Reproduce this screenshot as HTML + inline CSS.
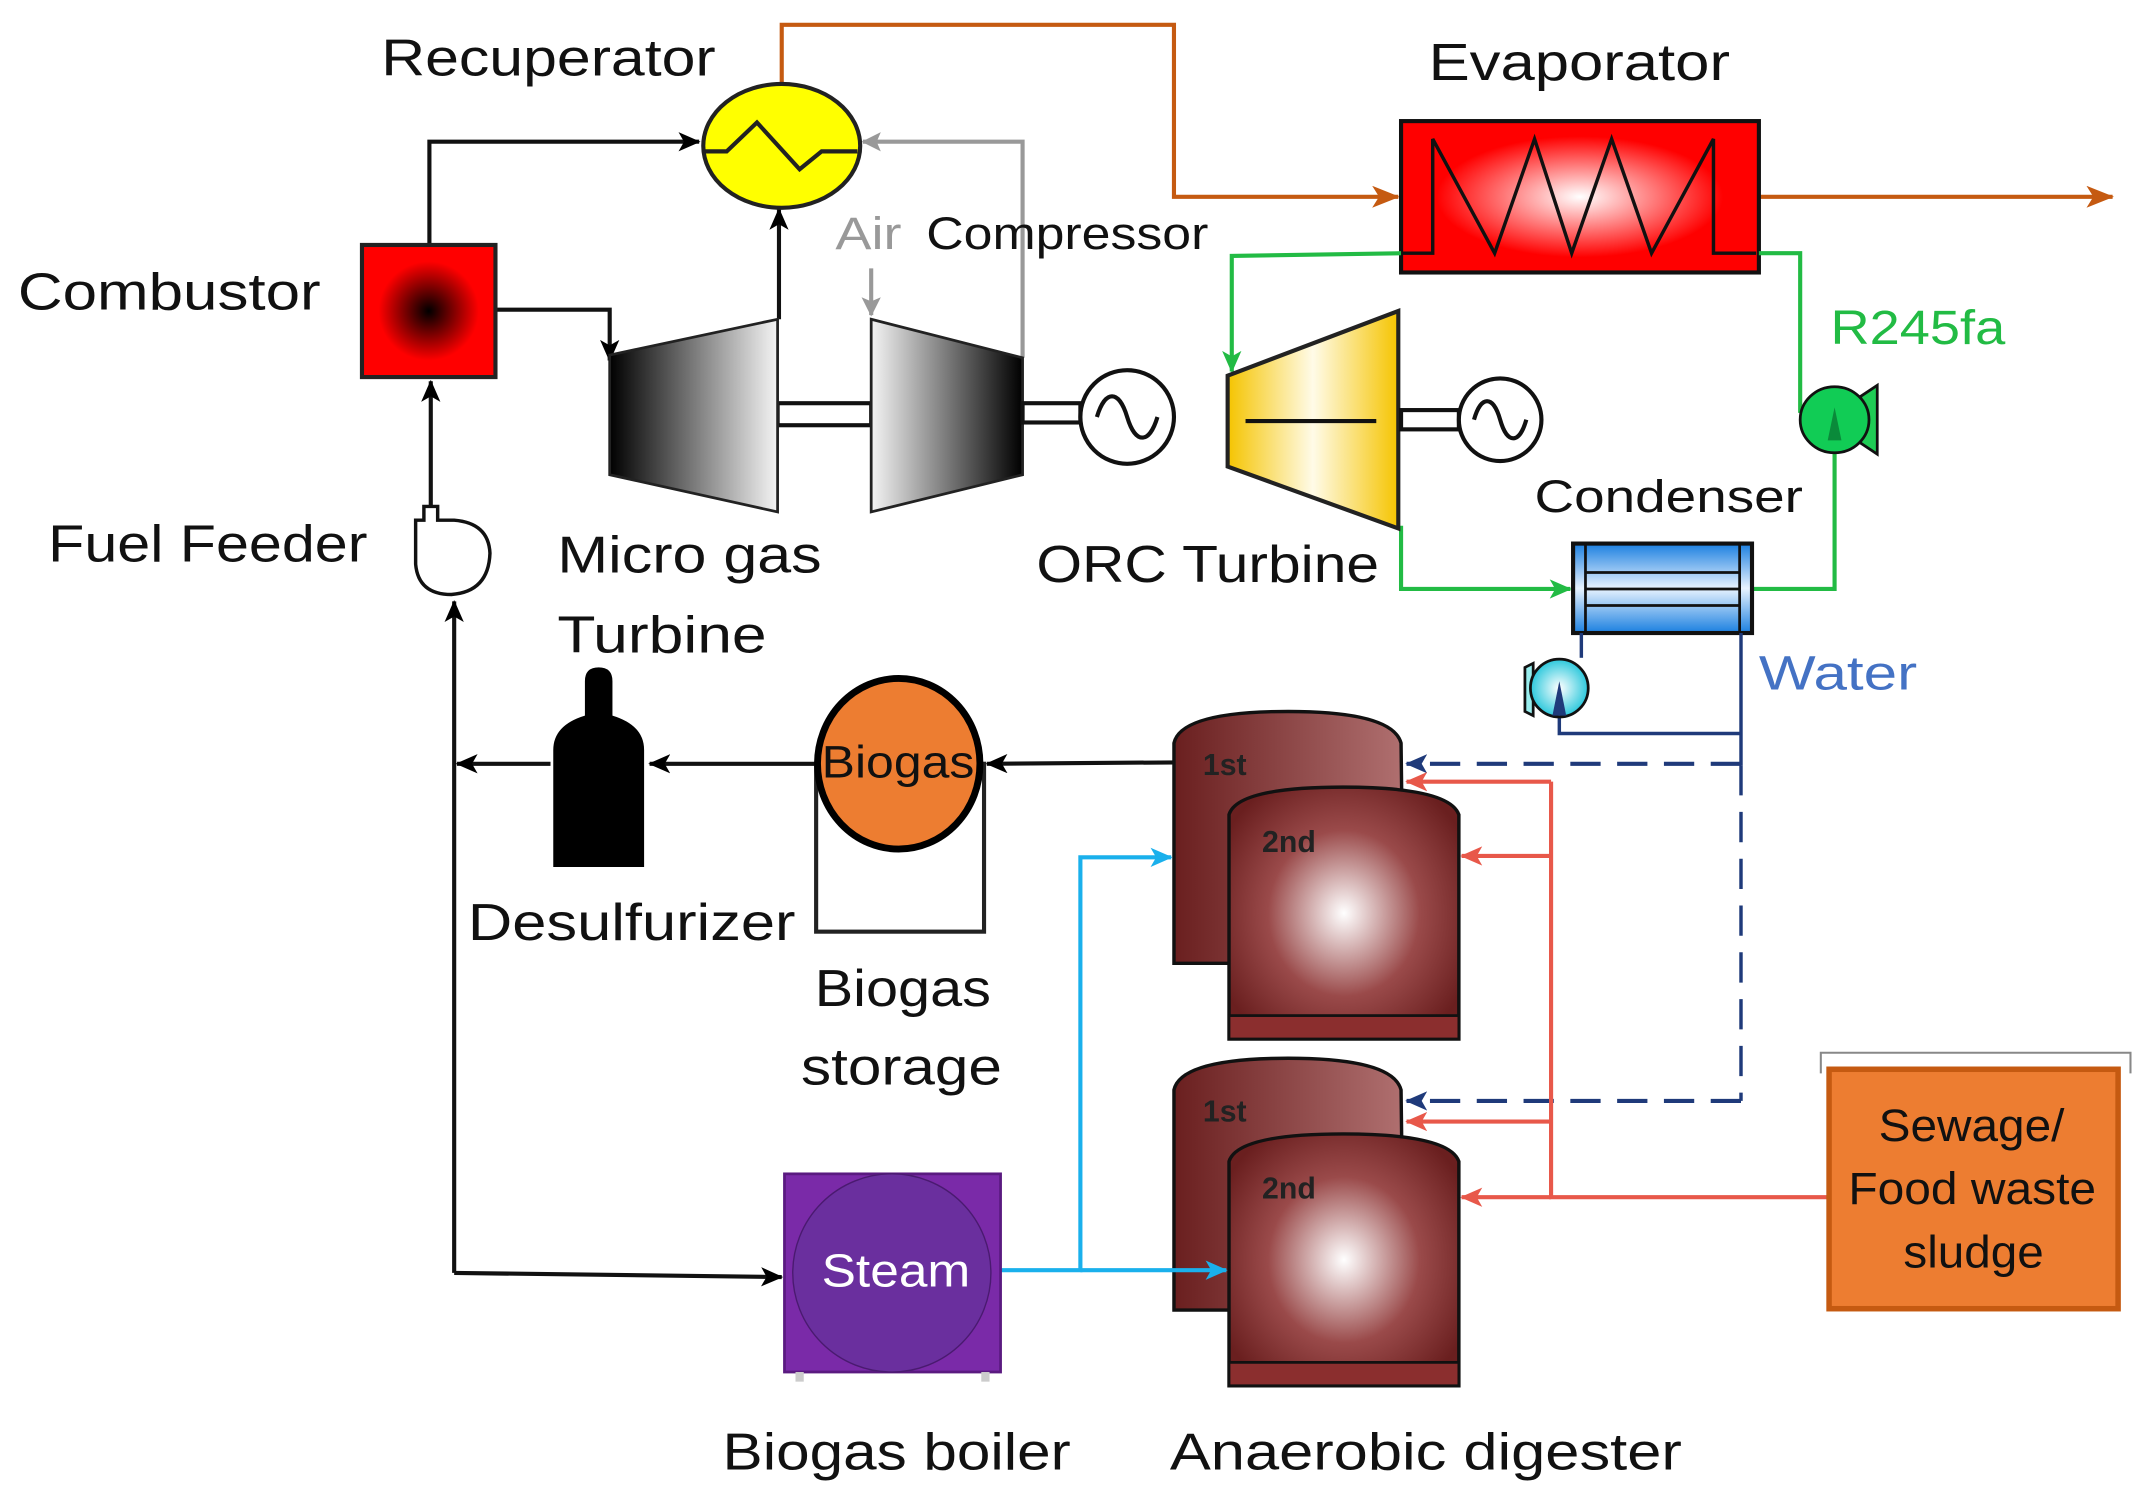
<!DOCTYPE html>
<html><head><meta charset="utf-8"><style>html,body{margin:0;padding:0;background:#fff}svg{display:block}</style></head>
<body>
<svg width="2147" height="1500" viewBox="0 0 1560 1090" preserveAspectRatio="none" xmlns="http://www.w3.org/2000/svg" font-family="Liberation Sans, sans-serif">
<defs>
<radialGradient id="comb"><stop offset="0" stop-color="#000"/><stop offset="0.75" stop-color="#f00"/><stop offset="1" stop-color="#f00"/></radialGradient>
<radialGradient id="evap"><stop offset="0" stop-color="#fff"/><stop offset="0.8" stop-color="#f00"/></radialGradient>
<linearGradient id="tleft" x1="0" x2="1"><stop offset="0" stop-color="#000"/><stop offset="1" stop-color="#f4f4f4"/></linearGradient>
<linearGradient id="tright" x1="0" x2="1"><stop offset="0" stop-color="#f4f4f4"/><stop offset="1" stop-color="#000"/></linearGradient>
<linearGradient id="orc" x1="0" x2="1"><stop offset="0" stop-color="#f5c400"/><stop offset="0.5" stop-color="#fffbe8"/><stop offset="1" stop-color="#f5c400"/></linearGradient>
<linearGradient id="cond" x1="0" y1="0" x2="0" y2="1"><stop offset="0" stop-color="#1a7fe0"/><stop offset="0.5" stop-color="#e8f3ff"/><stop offset="1" stop-color="#1a7fe0"/></linearGradient>
<radialGradient id="dig" cx="0.5" cy="0.5" r="0.6"><stop offset="0" stop-color="#fff"/><stop offset="0.55" stop-color="#9a4a4a"/><stop offset="1" stop-color="#6a1f1f"/></radialGradient>
<linearGradient id="dig1" x1="0" x2="1"><stop offset="0" stop-color="#6a1f1f"/><stop offset="1" stop-color="#b07070"/></linearGradient>
<radialGradient id="wp"><stop offset="0" stop-color="#fff"/><stop offset="1" stop-color="#2cc8dc"/></radialGradient>
<marker id="ak" markerWidth="16" markerHeight="14" refX="15" refY="7" orient="auto" markerUnits="userSpaceOnUse"><path d="M0,0 L16,7 L0,14 L4,7z" fill="#000"/></marker>
<marker id="ao" markerWidth="20" markerHeight="16" refX="19" refY="8" orient="auto" markerUnits="userSpaceOnUse"><path d="M0,0 L20,8 L0,16 L5,8z" fill="#c55a11"/></marker>
<marker id="ag" markerWidth="14" markerHeight="14" refX="13" refY="7" orient="auto" markerUnits="userSpaceOnUse"><path d="M0,0 L14,7 L0,14 L3,7z" fill="#999"/></marker>
<marker id="agr" markerWidth="16" markerHeight="14" refX="15" refY="7" orient="auto" markerUnits="userSpaceOnUse"><path d="M0,0 L16,7 L0,14 L4,7z" fill="#22bb44"/></marker>
<marker id="an" markerWidth="16" markerHeight="14" refX="15" refY="7" orient="auto" markerUnits="userSpaceOnUse"><path d="M0,0 L16,7 L0,14 L4,7z" fill="#1f3a7a"/></marker>
<marker id="ar" markerWidth="16" markerHeight="14" refX="15" refY="7" orient="auto" markerUnits="userSpaceOnUse"><path d="M0,0 L16,7 L0,14 L4,7z" fill="#e8584a"/></marker>
<marker id="ac" markerWidth="16" markerHeight="14" refX="15" refY="7" orient="auto" markerUnits="userSpaceOnUse"><path d="M0,0 L16,7 L0,14 L4,7z" fill="#1ab0ec"/></marker>
</defs>

<polyline points="568,62 568,18 853,18 853,143 1016,143" fill="none" stroke="#c55a11" stroke-width="3" marker-end="url(#ao)"/>
<line x1="1278" y1="143" x2="1535" y2="143" stroke="#c55a11" stroke-width="3" marker-end="url(#ao)"/>

<polyline points="312,178 312,103 508,103" fill="none" stroke="#111" stroke-width="3" marker-end="url(#ak)"/>
<polyline points="360,225 443,225 443,262" fill="none" stroke="#111" stroke-width="3" marker-end="url(#ak)"/>
<line x1="566" y1="232" x2="566" y2="152" stroke="#111" stroke-width="3" marker-end="url(#ak)"/>
<line x1="313" y1="368" x2="313" y2="277" stroke="#111" stroke-width="3" marker-end="url(#ak)"/>
<line x1="330" y1="925" x2="330" y2="437" stroke="#111" stroke-width="3" marker-end="url(#ak)"/>
<polyline points="330,925 568,928" fill="none" stroke="#111" stroke-width="3" marker-end="url(#ak)"/>
<line x1="400" y1="555" x2="332" y2="555" stroke="#111" stroke-width="3" marker-end="url(#ak)"/>
<line x1="593" y1="555" x2="472" y2="555" stroke="#111" stroke-width="3" marker-end="url(#ak)"/>
<line x1="855" y1="554" x2="717" y2="555" stroke="#111" stroke-width="3" marker-end="url(#ak)"/>

<polyline points="743,260 743,103 627,103" fill="none" stroke="#999" stroke-width="3" marker-end="url(#ag)"/>
<line x1="633" y1="195" x2="633" y2="229" stroke="#999" stroke-width="3" marker-end="url(#ag)"/>

<ellipse cx="568" cy="106" rx="57" ry="45" fill="#ffff00" stroke="#222" stroke-width="3"/>
<polyline points="511,110 528,110 550,89 581,123 597,110 623,110" fill="none" stroke="#222" stroke-width="3"/>

<rect x="263" y="178" width="97" height="96" fill="url(#comb)" stroke="#222" stroke-width="3"/>

<rect x="565" y="293" width="68" height="16" fill="#fff" stroke="#111" stroke-width="3"/>
<polygon points="443,258 565,232 565,372 443,345" fill="url(#tleft)" stroke="#222" stroke-width="2"/>
<polygon points="633,232 743,260 743,345 633,372" fill="url(#tright)" stroke="#222" stroke-width="2"/>
<rect x="743" y="293" width="42" height="14" fill="#fff" stroke="#111" stroke-width="3"/>
<circle cx="819" cy="303" r="34" fill="#fff" stroke="#111" stroke-width="3"/>
<path d="M797,303 C803,283 813,283 819,303 C825,323 835,323 841,303" fill="none" stroke="#111" stroke-width="3"/>

<path d="M308,368 L308,378 L302,378 L302,410 Q304,432 328,432 Q355,430 356,402 Q355,380 330,378 L318,378 L318,368 Z" fill="#fff" stroke="#111" stroke-width="2.5"/>

<rect x="1018" y="88" width="260" height="110" fill="url(#evap)" stroke="#111" stroke-width="3"/>
<polyline points="1018,184 1041,184 1041,101 1086,184 1115,101 1142,184 1171,101 1200,184 1245,101 1245,184 1276,184" fill="none" stroke="#111" stroke-width="2.5"/>

<polyline points="1018,184 895,186 895,270" fill="none" stroke="#22bb44" stroke-width="3" marker-end="url(#agr)"/>
<polyline points="1018,382 1018,428 1141,428" fill="none" stroke="#22bb44" stroke-width="3" marker-end="url(#agr)"/>
<polyline points="1273,428 1333,428 1333,320" fill="none" stroke="#22bb44" stroke-width="3"/>
<polyline points="1308,300 1308,184 1278,184" fill="none" stroke="#22bb44" stroke-width="3"/>

<polygon points="892,273 1016,226 1016,384 892,339" fill="url(#orc)" stroke="#222" stroke-width="3"/>
<line x1="905" y1="306" x2="1000" y2="306" stroke="#111" stroke-width="3"/>
<rect x="1018" y="298" width="42" height="14" fill="#fff" stroke="#111" stroke-width="3"/>
<circle cx="1090" cy="305" r="30" fill="#fff" stroke="#111" stroke-width="3"/>
<path d="M1071,305 C1076,287 1085,287 1090,305 C1095,323 1104,323 1109,305" fill="none" stroke="#111" stroke-width="3"/>

<path d="M1352,288 L1364,280 L1364,330 L1352,322Z" fill="#1fcc55" stroke="#111" stroke-width="2"/>
<ellipse cx="1333" cy="305" rx="25" ry="24" fill="#11cc55" stroke="#111" stroke-width="2"/>
<path d="M1328,320 L1333,296 L1338,320Z" fill="#0a8a3a"/>

<rect x="1143" y="395" width="130" height="65" fill="url(#cond)" stroke="#111" stroke-width="3"/>
<line x1="1152" y1="395" x2="1152" y2="460" stroke="#111" stroke-width="2"/>
<line x1="1264" y1="395" x2="1264" y2="460" stroke="#111" stroke-width="2"/>
<line x1="1152" y1="416" x2="1264" y2="416" stroke="#111" stroke-width="2"/>
<line x1="1152" y1="428" x2="1264" y2="428" stroke="#111" stroke-width="2"/>
<line x1="1152" y1="440" x2="1264" y2="440" stroke="#111" stroke-width="2"/>

<polyline points="1149,460 1149,478" fill="none" stroke="#1f3a7a" stroke-width="2.5"/>
<polyline points="1133,520 1133,533 1265,533" fill="none" stroke="#1f3a7a" stroke-width="2.5"/>
<line x1="1265" y1="460" x2="1265" y2="556" stroke="#1f3a7a" stroke-width="2.5"/>
<line x1="1265" y1="556" x2="1265" y2="800" stroke="#1f3a7a" stroke-width="2.5" stroke-dasharray="22,12"/>
<line x1="1265" y1="555" x2="1022" y2="555" stroke="#1f3a7a" stroke-width="3" stroke-dasharray="22,12" marker-end="url(#an)"/>
<line x1="1265" y1="800" x2="1022" y2="800" stroke="#1f3a7a" stroke-width="3" stroke-dasharray="22,12" marker-end="url(#an)"/>
<path d="M1108,485 L1114,482 L1114,520 L1108,517Z" fill="#9ee" stroke="#111" stroke-width="2"/>
<ellipse cx="1133" cy="500" rx="21" ry="21" fill="url(#wp)" stroke="#111" stroke-width="2"/>
<path d="M1128,520 L1133,495 L1138,520Z" fill="#1f3a7a"/>

<path d="M402,630 L402,545 Q402,527 425,520 L425,495 Q425,485 435,485 Q445,485 445,495 L445,520 Q468,527 468,545 L468,630Z" fill="#000"/>

<rect x="593" y="555" width="122" height="122" fill="#fff" stroke="#222" stroke-width="3"/>
<ellipse cx="653" cy="555" rx="59" ry="62" fill="#ed7d31" stroke="#000" stroke-width="5"/>

<polyline points="1328,870 1127,870 1127,568" fill="none" stroke="#e8584a" stroke-width="3"/>
<line x1="1127" y1="568" x2="1022" y2="568" stroke="#e8584a" stroke-width="3" marker-end="url(#ar)"/>
<line x1="1127" y1="622" x2="1062" y2="622" stroke="#e8584a" stroke-width="3" marker-end="url(#ar)"/>
<line x1="1127" y1="815" x2="1022" y2="815" stroke="#e8584a" stroke-width="3" marker-end="url(#ar)"/>
<line x1="1127" y1="870" x2="1062" y2="870" stroke="#e8584a" stroke-width="3" marker-end="url(#ar)"/>

<g id="dg">
<path d="M853,700 L853,540 Q858,517 936,517 Q1012,517 1018,540 L1020,700Z" fill="url(#dig1)" stroke="#111" stroke-width="2.5"/>
<path d="M893,755 L893,592 Q899,572 976,572 Q1053,572 1060,592 L1060,755Z" fill="url(#dig)" stroke="#111" stroke-width="2.5"/>
<rect x="893" y="738" width="167" height="17" fill="#8b2e2e" stroke="#111" stroke-width="2"/>
<text x="874" y="563" font-size="22" font-weight="bold" fill="#222">1st</text>
<text x="917" y="619" font-size="22" font-weight="bold" fill="#222">2nd</text>
</g>
<use href="#dg" transform="translate(0,252)"/>

<polyline points="727,923 785,923 785,623 851,623" fill="none" stroke="#1ab0ec" stroke-width="3" marker-end="url(#ac)"/>
<line x1="785" y1="923" x2="891" y2="923" stroke="#1ab0ec" stroke-width="3" marker-end="url(#ac)"/>

<rect x="570" y="853" width="157" height="144" fill="#7a2aa8" stroke="#5a1a80" stroke-width="2"/>
<circle cx="648" cy="925" r="72" fill="#6a2f9e" stroke="#4a1a70" stroke-width="1"/>
<rect x="578" y="997" width="6" height="7" fill="#ccc"/><rect x="713" y="997" width="6" height="7" fill="#ccc"/>

<polyline points="1323,780 1323,765 1548,765 1548,780" fill="none" stroke="#888" stroke-width="1.5"/>
<rect x="1329" y="777" width="210" height="174" fill="#ed7d31" stroke="#c55a11" stroke-width="4"/>

<g font-size="38" fill="#111">
<text x="277" y="55" textLength="243" lengthAdjust="spacingAndGlyphs">Recuperator</text>
<text x="1038" y="58" textLength="219" lengthAdjust="spacingAndGlyphs">Evaporator</text>
<text x="13" y="225" textLength="220" lengthAdjust="spacingAndGlyphs">Combustor</text>
<text x="35" y="408" textLength="232" lengthAdjust="spacingAndGlyphs">Fuel Feeder</text>
<text x="405" y="416" textLength="192" lengthAdjust="spacingAndGlyphs">Micro gas</text>
<text x="405" y="474" textLength="152" lengthAdjust="spacingAndGlyphs">Turbine</text>
<text x="753" y="423" textLength="249" lengthAdjust="spacingAndGlyphs">ORC Turbine</text>
<text x="340" y="683" textLength="238" lengthAdjust="spacingAndGlyphs">Desulfurizer</text>
<text x="592" y="731" textLength="128" lengthAdjust="spacingAndGlyphs">Biogas</text>
<text x="582" y="788" textLength="146" lengthAdjust="spacingAndGlyphs">storage</text>
<text x="525" y="1068" textLength="253" lengthAdjust="spacingAndGlyphs">Biogas boiler</text>
<text x="850" y="1068" textLength="372" lengthAdjust="spacingAndGlyphs">Anaerobic digester</text>
</g>
<g font-size="33" fill="#111">
<text x="673" y="181" textLength="205" lengthAdjust="spacingAndGlyphs">Compressor</text>
<text x="1115" y="372" textLength="195" lengthAdjust="spacingAndGlyphs">Condenser</text>
<text x="597" y="565" textLength="111" lengthAdjust="spacingAndGlyphs">Biogas</text>
<text x="1365" y="829" textLength="135" lengthAdjust="spacingAndGlyphs">Sewage/</text>
<text x="1343" y="875" textLength="180" lengthAdjust="spacingAndGlyphs">Food waste</text>
<text x="1383" y="921" textLength="102" lengthAdjust="spacingAndGlyphs">sludge</text>
</g>
<text x="607" y="181" font-size="33" fill="#999" textLength="48" lengthAdjust="spacingAndGlyphs">Air</text>
<text x="1330" y="250" font-size="35" fill="#22bb44" textLength="127" lengthAdjust="spacingAndGlyphs">R245fa</text>
<text x="1278" y="501" font-size="35" fill="#4472c4" textLength="115" lengthAdjust="spacingAndGlyphs">Water</text>
<text x="597" y="935" font-size="34" fill="#fff" textLength="108" lengthAdjust="spacingAndGlyphs">Steam</text>
</svg>
</body></html>
